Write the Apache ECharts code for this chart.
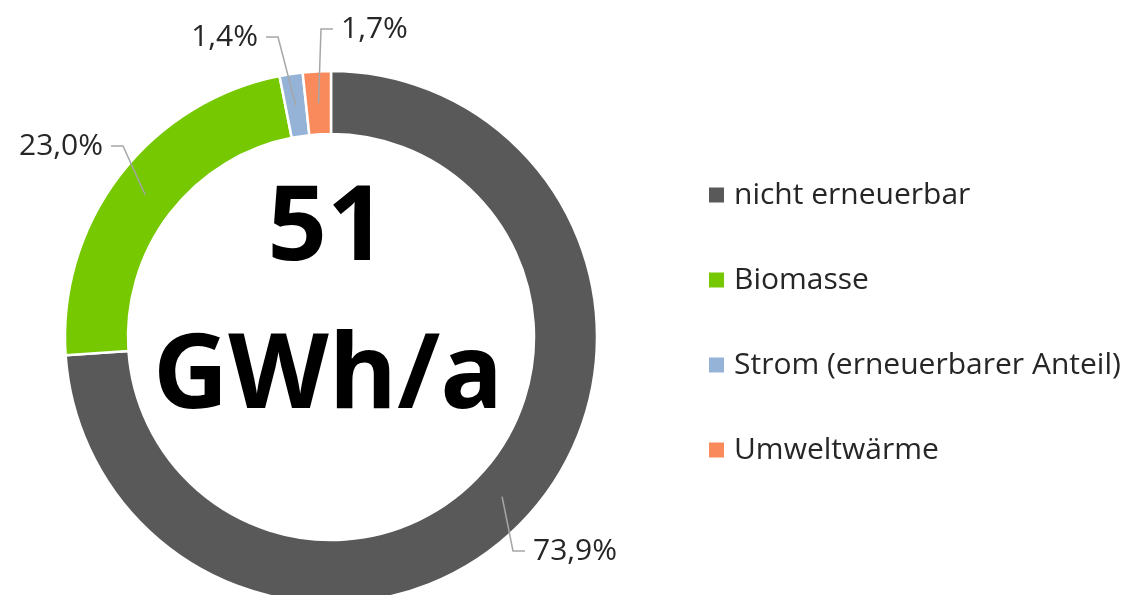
<!DOCTYPE html>
<html>
<head>
<meta charset="utf-8">
<script src="https://cdn.jsdelivr.net/npm/echarts@6/dist/echarts.min.js"></script>
<style>
  html, body { margin: 0; padding: 0; background: #fff; }
  #chart { width: 1137px; height: 595px; }
</style>
</head>
<body>
<div id="chart"></div>
<script>
// Anteile am Endenergieverbrauch (%)
const names = ['nicht erneuerbar', 'Biomasse', 'Strom (erneuerbarer Anteil)', 'Umweltwärme']
const values = [73.9, 23.0, 1.4, 1.7]
const colors = ['#595959', '#76C800', '#95B3D7', '#F98A5C']
const centerLines = ['51', 'GWh/a']

const fontFamily = '"Open Sans", "Noto Sans", sans-serif'

// Label-Positionen (Pixel) wie im Original
const labelSpots = [
  { x: 525, y: 551, align: 'left' },
  { x: 111, y: 146, align: 'right' },
  { x: 266, y: 37, align: 'right' },
  { x: 333, y: 29, align: 'left' }
]

const chart = echarts.init(document.getElementById('chart'))

const ringData = names.map((n, i) => ({
  name: n,
  value: values[i],
  itemStyle: { color: colors[i] }
}))

// das letzte Label bekommt rechts Luft, damit die Linie von links anschließt
const labelData = names.map((n, i) => ({
  name: n,
  value: values[i],
  label: i === 3 ? { padding: [0, 90, 0, 8] } : {}
}))

const option = {
  backgroundColor: '#fff',
  animation: false,
  legend: {
    orient: 'vertical',
    left: 702,
    top: 175,
    itemWidth: 17,
    itemHeight: 17,
    itemGap: 55,
    icon: 'rect',
    data: names,
    textStyle: {
      fontFamily: fontFamily,
      fontSize: 30,
      color: '#262626',
      lineHeight: 30,
      padding: [0, 0, 0, 4]
    }
  },
  graphic: [
    {
      type: 'text',
      z: 10,
      style: {
        x: 327,
        y: 230,
        text: centerLines[0],
        font: 'bold 104px ' + fontFamily,
        fill: '#000',
        textAlign: 'center',
        textVerticalAlign: 'middle'
      }
    },
    {
      type: 'text',
      z: 10,
      style: {
        x: 328,
        y: 378,
        text: centerLines[1],
        font: 'bold 104px ' + fontFamily,
        fill: '#000',
        textAlign: 'center',
        textVerticalAlign: 'middle'
      }
    }
  ],
  series: [
    {
      name: 'Ring',
      type: 'pie',
      z: 1,
      center: [331, 337],
      radius: [203, 266],
      startAngle: 90,
      clockwise: true,
      silent: true,
      label: { show: false },
      labelLine: { show: false },
      itemStyle: { borderColor: '#fff', borderWidth: 2.5 },
      data: ringData
    },
    {
      name: 'Labels',
      type: 'pie',
      z: 5,
      center: [331, 337],
      radius: [0, 234],
      startAngle: 90,
      clockwise: true,
      silent: true,
      itemStyle: { color: 'rgba(0,0,0,0)', borderWidth: 0 },
      label: {
        show: true,
        position: 'outside',
        fontFamily: fontFamily,
        fontSize: 30,
        color: '#262626',
        padding: [0, 8],
        backgroundColor: 'rgba(255,255,255,0)',
        formatter: p => p.value.toFixed(1).replace('.', ',') + '%'
      },
      labelLine: {
        show: true,
        length: 20,
        length2: 12,
        lineStyle: { color: '#A6A6A6', width: 1.5 }
      },
      labelLayout: p => {
        const s = labelSpots[p.dataIndex]
        return { x: s.x, y: s.y, align: s.align, verticalAlign: 'middle' }
      },
      data: labelData
    }
  ]
}

chart.setOption(option)
window.addEventListener('resize', () => chart.resize())
</script>
</body>
</html>
